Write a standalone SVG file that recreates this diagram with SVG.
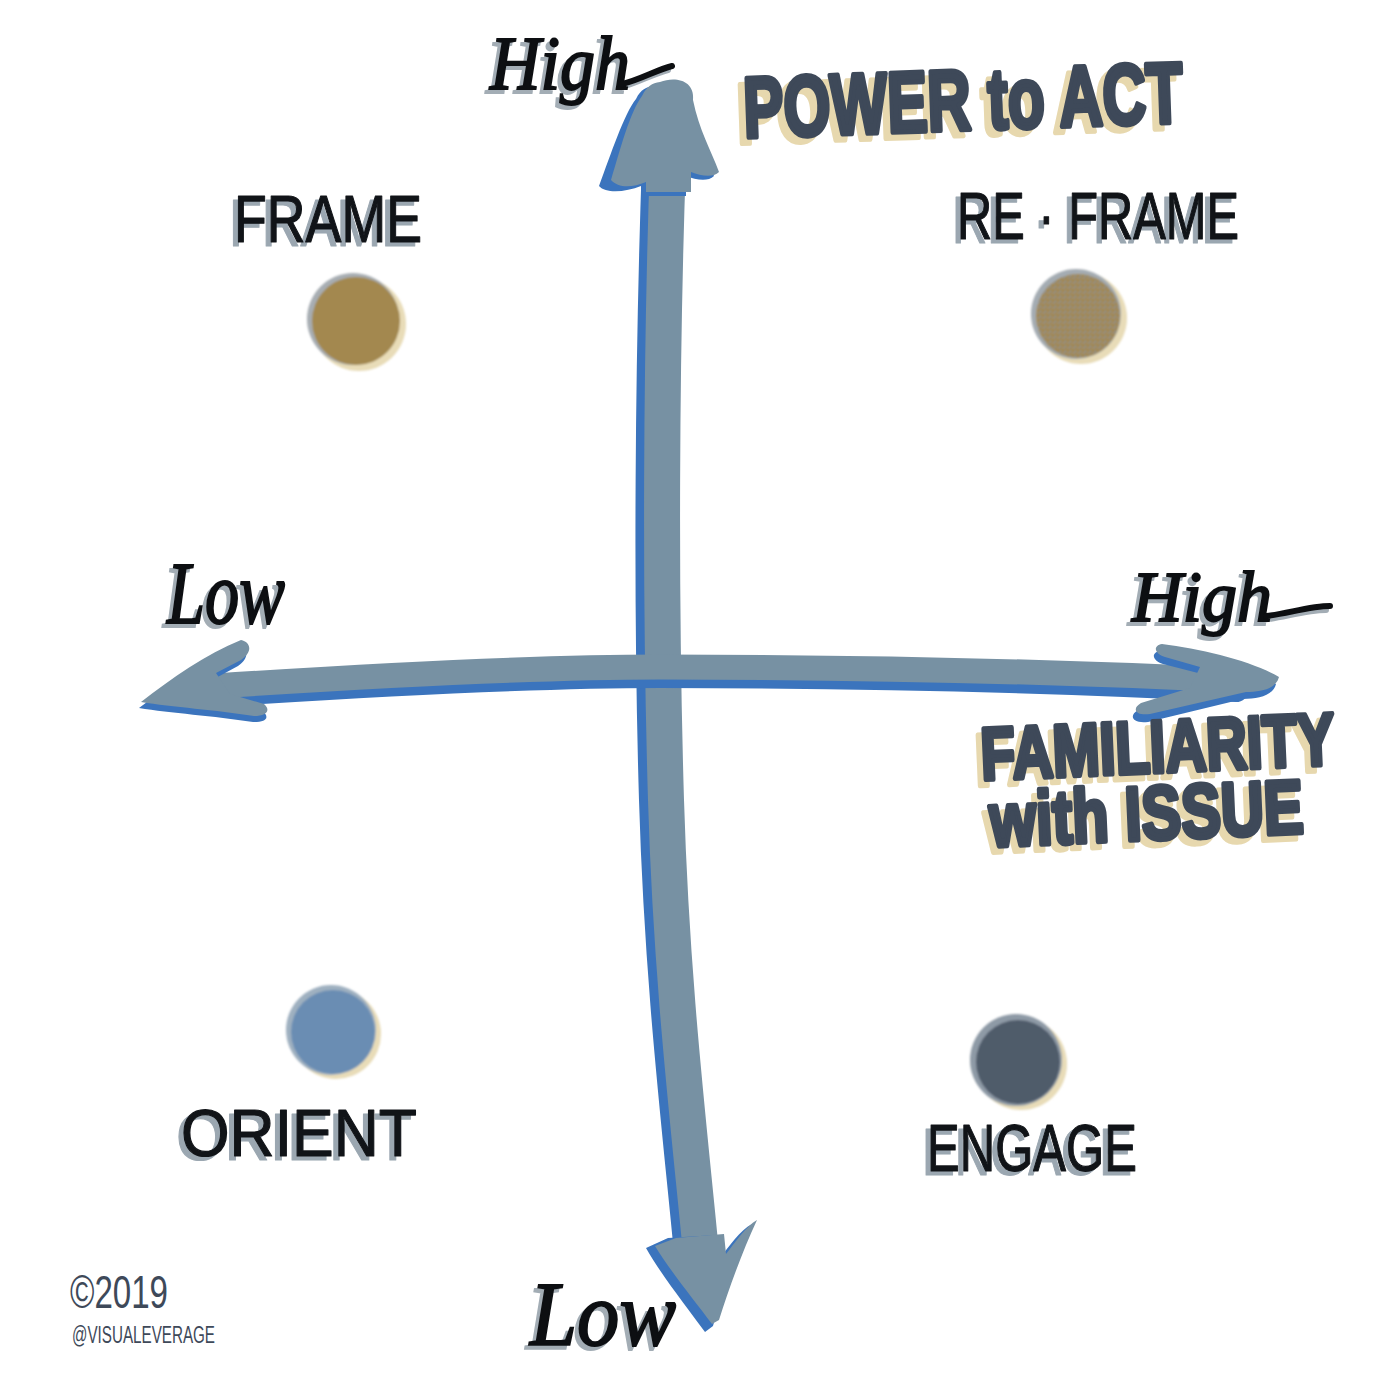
<svg xmlns="http://www.w3.org/2000/svg" width="1400" height="1400" viewBox="0 0 1400 1400">
  <defs>
    <style>
      .shaft { fill: none; stroke: #7791a3; stroke-linecap: round; }
      .shaft-edge { fill: none; stroke: #3b74bd; stroke-linecap: round; }
      .head { fill: #7791a3; }
      .head-edge { fill: #3b74bd; }
      .label { font-family: "Liberation Sans", "DejaVu Sans", sans-serif; font-size: 66px; fill: #111418; stroke: #111418; stroke-width: 1.2; stroke-linejoin: round; }
      .label-shadow { font-family: "Liberation Sans", "DejaVu Sans", sans-serif; font-size: 66px; fill: #9ba7b1; stroke: #9ba7b1; stroke-width: 1.2; stroke-linejoin: round; }
      .title { font-family: "Liberation Sans", "DejaVu Sans", sans-serif; font-weight: bold; fill: #3e4959; stroke: #3e4959; stroke-width: 5; stroke-linejoin: round; }
      .title-shadow { font-family: "Liberation Sans", "DejaVu Sans", sans-serif; font-weight: bold; fill: #e7d8ae; stroke: #e7d8ae; stroke-width: 5; stroke-linejoin: round; }
      .script { font-family: "Liberation Serif", "DejaVu Serif", serif; font-style: italic; fill: #0d0f12; stroke: #0d0f12; stroke-width: 2; }
      .script-shadow { font-family: "Liberation Serif", "DejaVu Serif", serif; font-style: italic; fill: #a3adb5; stroke: #a3adb5; stroke-width: 2; }
      .flourish { fill: none; stroke: #0d0f12; stroke-width: 6; stroke-linecap: round; }
      .flourish-shadow { fill: none; stroke: #a3adb5; stroke-width: 6; stroke-linecap: round; }
      .credit { font-family: "Liberation Sans", "DejaVu Sans", sans-serif; fill: #3e4959; }
    </style>
    <filter id="soft" x="-20%" y="-20%" width="140%" height="140%">
      <feGaussianBlur stdDeviation="1.2"/>
    </filter>
    <pattern id="speckle" width="5" height="5" patternUnits="userSpaceOnUse">
      <rect width="5" height="5" fill="#a3884f"/>
      <rect x="0" y="0" width="1" height="3" fill="#7f93a0"/>
      <rect x="3" y="2" width="1" height="2" fill="#8a96a2"/>
    </pattern>
  </defs>

  <rect width="1400" height="1400" fill="#ffffff"/>

  <!-- Axes -->
  <g id="connectors">
    <!-- vertical axis: power to act -->
    <g id="axis-power">
      <path class="shaft-edge" stroke-width="38" d="M 661 160 C 654 360, 652 600, 658 800 S 684 1150, 696 1285"/>
      <path class="shaft" stroke-width="36" d="M 668 160 C 661 360, 660 600, 666 800 S 692 1150, 704 1285"/>
      <!-- top head -->
      <path class="head-edge" d="M 654 86 C 670 78, 690 82, 688 102 C 694 132, 706 152, 714 176 C 708 182, 696 180, 686 176 L 686 196 L 641 196 L 641 186 C 626 192, 606 194, 599 186 C 611 154, 624 114, 636 99 C 641 89, 646 87, 654 86 Z"/>
      <path class="head" d="M 660 82 C 675 76, 695 80, 693 100 C 699 130, 711 150, 719 172 C 713 178, 701 176, 691 172 L 691 192 L 646 192 L 646 182 C 632 188, 618 188, 611 180 C 620 150, 630 112, 642 96 C 647 86, 652 83, 660 82 Z"/>
      <!-- bottom head -->
      <path class="head-edge" d="M 668 1238 L 646 1248 C 662 1276, 686 1306, 705 1332 L 713 1326 C 722 1292, 737 1254, 752 1224 C 740 1230, 728 1248, 720 1258 L 716 1235 Z"/>
      <path class="head" d="M 676 1238 L 655 1246 C 671 1272, 694 1300, 712 1324 L 719 1320 C 729 1288, 743 1250, 757 1220 C 746 1226, 734 1244, 726 1254 L 724 1234 Z"/>
    </g>
    <!-- horizontal axis: familiarity with issue -->
    <g id="axis-familiarity">
      <path class="shaft-edge" stroke-width="26" d="M 215 694 C 400 682, 550 675, 660 675 S 1000 677, 1236 689"/>
      <path class="shaft" stroke-width="25" d="M 215 686 C 400 674, 550 667, 660 667 S 1000 669, 1236 680"/>
      <!-- left head -->
      <path class="head-edge" d="M 139 708 C 170 685, 205 660, 238 646 C 248 648, 250 658, 238 666 L 214 679 L 228 700 L 263 711 C 270 718, 266 722, 253 722 C 214 716, 170 713, 139 708 Z"/>
      <path class="head" d="M 141 702 C 172 678, 206 654, 241 640 C 251 642, 253 652, 241 660 L 216 673 L 230 694 L 264 704 C 271 710, 267 716, 254 716 C 216 710, 172 707, 141 702 Z"/>
      <!-- right head -->
      <path class="head-edge" d="M 1160 651 C 1200 656, 1250 668, 1276 684 C 1273 696, 1258 699, 1243 699 L 1148 722 C 1133 724, 1128 716, 1138 710 L 1188 695 L 1198 673 L 1163 664 C 1153 661, 1150 653, 1160 651 Z"/>
      <path class="head" d="M 1162 644 C 1202 649, 1252 661, 1279 677 C 1276 689, 1261 692, 1246 692 L 1150 714 C 1136 716, 1131 709, 1141 703 L 1190 688 L 1200 667 L 1165 657 C 1155 654, 1152 646, 1162 644 Z"/>
    </g>
  </g>

  <!-- Axis titles -->
  <g id="title-power">
    <text class="title-shadow" x="736" y="136" font-size="86" textLength="440" lengthAdjust="spacingAndGlyphs" transform="rotate(-2 960 100)">POWER to ACT</text>
    <text class="title" x="743" y="130" font-size="86" textLength="440" lengthAdjust="spacingAndGlyphs" transform="rotate(-2 960 100)">POWER to ACT</text>
  </g>
  <g id="title-familiarity">
    <g transform="rotate(-2.5 1160 780)">
      <text class="title-shadow" x="976" y="778" font-size="74" textLength="354" lengthAdjust="spacingAndGlyphs">FAMILIARITY</text>
      <text class="title" x="982" y="772" font-size="74" textLength="354" lengthAdjust="spacingAndGlyphs">FAMILIARITY</text>
      <text class="title-shadow" x="982" y="845" font-size="76" textLength="314" lengthAdjust="spacingAndGlyphs">with ISSUE</text>
      <text class="title" x="988" y="839" font-size="76" textLength="314" lengthAdjust="spacingAndGlyphs">with ISSUE</text>
    </g>
  </g>

  <!-- Axis end labels -->
  <g id="label-high-top">
    <text class="script-shadow" x="486" y="93" font-size="76" textLength="140" lengthAdjust="spacingAndGlyphs">High</text>
    <path class="flourish-shadow" d="M 618 88 C 636 84, 652 74, 668 70"/>
    <text class="script" x="490" y="89" font-size="76" textLength="140" lengthAdjust="spacingAndGlyphs">High</text>
    <path class="flourish" d="M 622 84 C 640 80, 656 70, 672 66"/>
  </g>
  <g id="label-high-right">
    <text class="script-shadow" x="1128" y="625" font-size="72" textLength="140" lengthAdjust="spacingAndGlyphs">High</text>
    <path class="flourish-shadow" d="M 1262 620 C 1282 618, 1306 610, 1326 610"/>
    <text class="script" x="1132" y="621" font-size="72" textLength="140" lengthAdjust="spacingAndGlyphs">High</text>
    <path class="flourish" d="M 1266 616 C 1286 614, 1310 606, 1330 606"/>
  </g>
  <g id="label-low-left">
    <text class="script-shadow" x="163" y="627" font-size="88" textLength="118" lengthAdjust="spacingAndGlyphs">Low</text>
    <text class="script" x="167" y="623" font-size="88" textLength="118" lengthAdjust="spacingAndGlyphs">Low</text>
  </g>
  <g id="label-low-bottom">
    <text class="script-shadow" x="526" y="1349" font-size="92" textLength="146" lengthAdjust="spacingAndGlyphs">Low</text>
    <text class="script" x="530" y="1345" font-size="92" textLength="146" lengthAdjust="spacingAndGlyphs">Low</text>
  </g>

  <!-- Quadrants -->
  <g id="node-frame">
    <text class="label-shadow" x="229" y="246" textLength="188" lengthAdjust="spacingAndGlyphs">FRAME</text>
    <text class="label" x="234" y="242" textLength="188" lengthAdjust="spacingAndGlyphs">FRAME</text>
    <g filter="url(#soft)">
      <circle cx="359" cy="324" r="47" fill="#e8dcb8"/>
      <circle cx="353" cy="319" r="46" fill="#a7adb2"/>
      <circle cx="356" cy="321" r="44" fill="#a3884f"/>
    </g>
  </g>

  <g id="node-reframe">
    <text class="label-shadow" x="952" y="243" textLength="282" lengthAdjust="spacingAndGlyphs">RE · FRAME</text>
    <text class="label" x="957" y="239" textLength="282" lengthAdjust="spacingAndGlyphs">RE · FRAME</text>
    <g filter="url(#soft)">
      <circle cx="1081" cy="318" r="46" fill="#e8dcb8"/>
      <circle cx="1076" cy="314" r="45" fill="#a4acb2"/>
      <circle cx="1078" cy="316" r="42" fill="url(#speckle)"/>
    </g>
  </g>

  <g id="node-orient">
    <g filter="url(#soft)">
      <circle cx="336" cy="1034" r="45" fill="#e8dcb8"/>
      <circle cx="331" cy="1030" r="45" fill="#9fb0c0"/>
      <circle cx="333" cy="1032" r="42" fill="#6a8db3"/>
    </g>
    <text class="label-shadow" x="176" y="1160" font-size="78" textLength="236" lengthAdjust="spacingAndGlyphs">ORIENT</text>
    <text class="label" x="181" y="1156" font-size="78" textLength="236" lengthAdjust="spacingAndGlyphs">ORIENT</text>
  </g>

  <g id="node-engage">
    <g filter="url(#soft)">
      <circle cx="1021" cy="1064" r="46" fill="#e8dcb8"/>
      <circle cx="1016" cy="1060" r="46" fill="#8e9aa6"/>
      <circle cx="1018" cy="1062" r="42" fill="#4f5b6b"/>
    </g>
    <text class="label-shadow" x="922" y="1175" font-size="72" textLength="210" lengthAdjust="spacingAndGlyphs">ENGAGE</text>
    <text class="label" x="927" y="1171" font-size="72" textLength="210" lengthAdjust="spacingAndGlyphs">ENGAGE</text>
  </g>

  <!-- Credit -->
  <g id="credit">
    <text class="credit" x="70" y="1308" font-size="46" textLength="98" lengthAdjust="spacingAndGlyphs">©2019</text>
    <text class="credit" x="72" y="1343" font-size="23" textLength="143" lengthAdjust="spacingAndGlyphs">@VISUALEVERAGE</text>
  </g>
</svg>
